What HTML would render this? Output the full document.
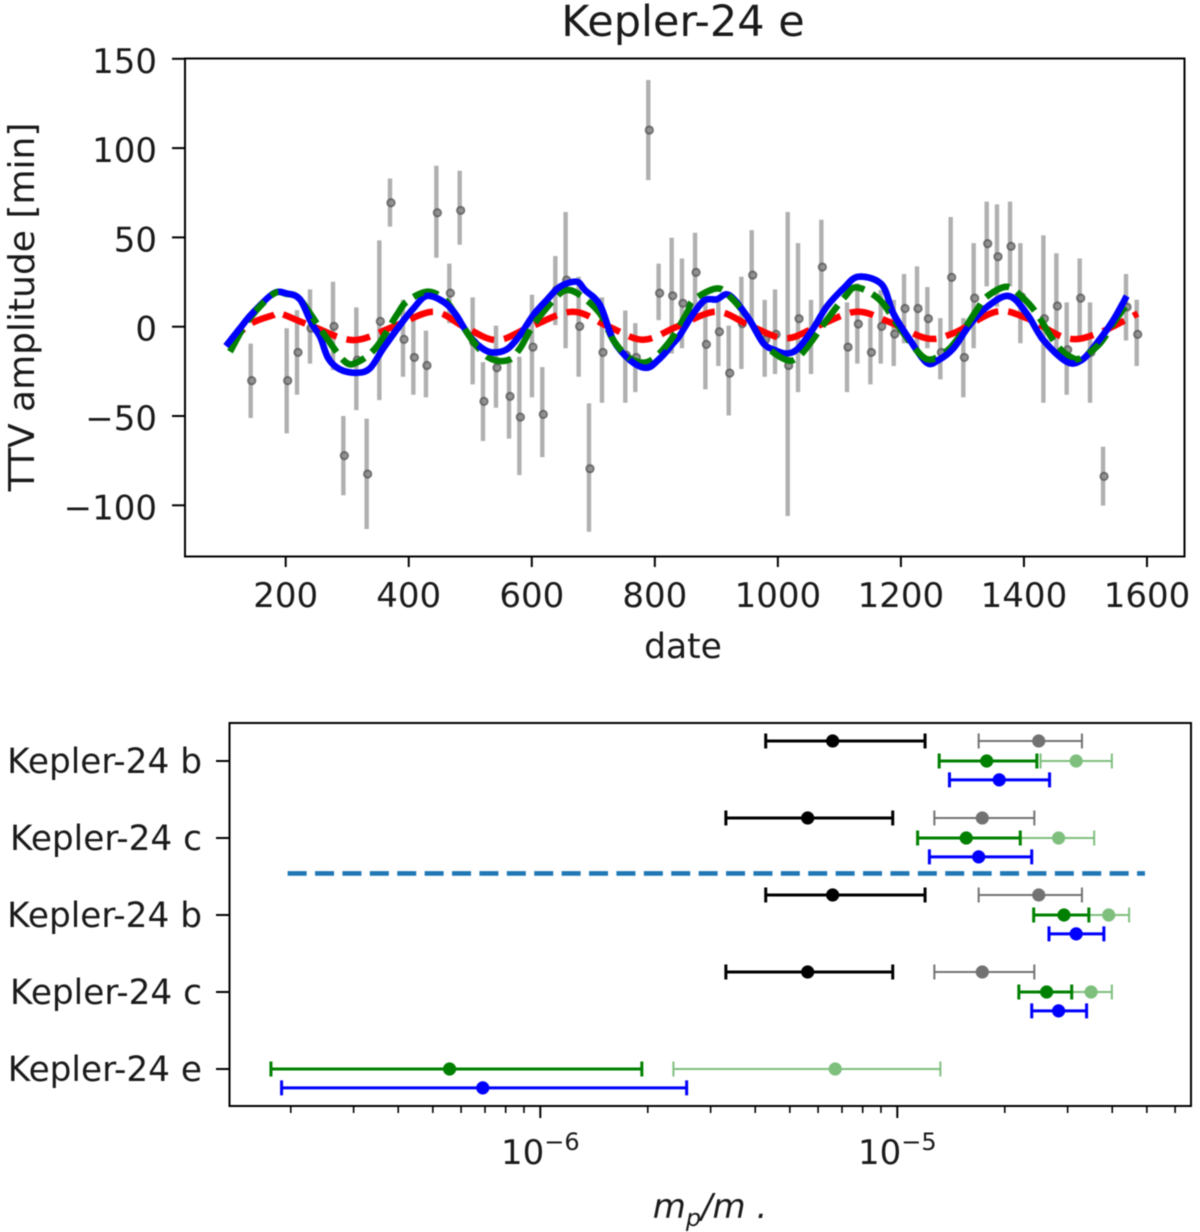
<!DOCTYPE html>
<html lang="en">
<head>
<meta charset="utf-8">
<title>Kepler-24 e TTV and mass comparison</title>
<style>
  html, body { margin: 0; padding: 0; background: #fff; }
  svg { display: block; filter: blur(0.65px); }
  text { font-family: "DejaVu Sans", "Liberation Sans", sans-serif; fill: #1a1a1a; }
</style>
</head>
<body>
<svg id="figure" xmlns="http://www.w3.org/2000/svg" width="1200" height="1232" viewBox="0 0 1200 1232">
  <rect x="0" y="0" width="1200" height="1232" fill="#fff"/>
  <text x="683" y="36" font-size="43" text-anchor="middle">Kepler-24 e</text>
  <text transform="translate(34,307) rotate(-90)" font-size="36" text-anchor="middle">TTV amplitude [min]</text>
  <text x="683" y="658" font-size="34.5" text-anchor="middle">date</text>
  <text x="710" y="1218" font-size="34" text-anchor="middle" font-style="italic">m<tspan font-size="24" dy="8">p</tspan><tspan dy="-8">/m .</tspan></text>
  <g id="top-chart"></g>
  <g id="bottom-chart"></g>
</svg>
<script>
// ---- Top chart data (date in days, TTV in minutes) ----
const ttvDates = [143.1,201.6,218.4,239.5,276.9,293.7,314.8,331.6,352.2,369.5,390.7,407.5,428.0,444.9,466.0,482.8,503.9,520.7,541.8,563.0,579.8,600.3,617.1,638.3,655.0,676.2,693.0,714.1,752.0,768.3,789.4,806.2,827.4,844.1,865.4,882.2,903.3,920.1,940.7,957.5,978.6,995.4,1016.0,1032.8,1053.9,1070.7,1112.4,1129.2,1150.4,1167.2,1188.3,1205.1,1226.2,1243.0,1264.1,1280.9,1301.5,1318.3,1339.5,1356.2,1377.4,1394.2,1431.6,1452.7,1469.5,1490.6,1507.4,1528.6,1565.9,1583.3];
const ttvValues = [-30.2,-30.2,-14.4,-0.9,0.2,-72.2,-18.7,-82.5,3.0,69.4,-7.1,-17.2,-21.7,63.8,18.8,65.1,-8.6,-41.8,-23.0,-39.0,-50.6,-11.4,-49.1,20.5,26.1,0.2,-79.5,-14.4,-15.9,-17.2,110.1,18.8,17.3,13.1,30.4,-9.9,-2.8,-26.0,1.7,28.9,-7.1,-4.3,-21.7,4.5,-5.6,33.4,-11.4,1.5,-14.4,0.2,-4.1,10.2,10.2,4.5,-14.4,27.6,-17.2,16.0,46.5,39.2,45.0,16.8,4.5,11.6,-12.9,16.0,-14.4,-83.8,11.0,-4.3];
const ttvUpper = [-9.5,-0.9,9.3,20.9,25.2,-50.0,10.8,-51.5,48.3,83.0,15.0,7.4,-2.2,90.1,35.3,87.3,16.4,-19.8,0.6,-16.8,-16.8,17.9,-22.6,39.6,64.2,28.0,-42.9,16.4,9.1,2.0,138.1,35.3,49.8,38.2,52.6,15.0,16.8,0.6,28.0,54.1,15.0,20.9,64.2,46.8,15.0,59.9,13.6,24.2,4.8,20.5,15.0,29.5,33.8,22.2,4.8,61.4,4.8,46.8,70.0,68.5,70.0,46.8,51.1,41.1,13.6,38.2,13.6,-67.2,29.5,15.1];
const ttvLower = [-51.1,-59.7,-38.1,-20.7,-24.3,-94.4,-46.7,-113.3,-41.1,56.0,-28.0,-38.1,-39.6,38.6,1.9,45.9,-32.3,-64.0,-45.4,-62.7,-83.1,-39.6,-73.0,0.9,-12.1,-28.0,-114.8,-42.6,-42.6,-36.6,82.1,3.7,-15.0,-12.1,9.3,-35.1,-22.0,-49.7,-23.7,1.9,-28.0,-26.5,-106.0,-36.6,-26.5,7.4,-36.6,-20.7,-32.3,-20.7,-22.0,-9.3,-13.1,-12.1,-29.5,-5.6,-39.6,-12.1,22.6,11.2,22.6,-9.3,-42.6,-13.1,-38.1,-5.6,-42.6,-100.2,-7.7,-22.0];

const blueDates = [103,125.7,144.7,179.9,201.6,223.2,242.2,255.8,269.3,288.3,315.4,337.0,358.7,385.8,407.5,429.1,456.2,475.2,499.6,523.9,542.9,561.9,580.8,602.5,624.2,645.8,672.9,686.5,710.9,732.5,759.6,786.7,808.4,830.1,841,862.7,881.6,900.6,921.2,952.1,976.5,995.4,1014.4,1033.3,1057.7,1079.4,1106.5,1130.9,1168.8,1187.8,1214.8,1241.9,1260.9,1285.3,1309.7,1336.7,1374.7,1404.5,1431.6,1469.5,1493.9,1518.3,1545.3,1567];
const blueValues = [-10.8,-0.9,7.1,18.6,18.6,15.3,1.8,-5.6,-17.7,-23.9,-25.8,-23.3,-12.1,0.9,10.2,17.2,14.0,7.4,-5.6,-13.1,-14.4,-12.1,-4.7,6.5,14.9,22.4,25.2,20.5,12.1,-7.5,-18.7,-23.0,-17.7,-9.3,-4.7,7.4,14.9,15.3,17.7,4.7,-9.3,-13.1,-15.0,-12.1,-0.9,11.2,21.4,28.0,23.7,7.4,-7.5,-20.2,-18.7,-12.1,0.0,10.2,17.2,7.4,-7.5,-19.6,-18.7,-9.3,3.7,17.2];

const greenDates = [109.5,139.3,179.9,201.6,223.2,261.2,296.4,318.1,347.9,380.4,396.6,429.1,456.2,475.2,505.0,532.1,561.9,580.8,602.5,637.7,656.7,678.4,710.9,732.5,759.6,789.4,821.9,851.8,862.7,900.6,922.3,952.1,979.2,1014.4,1033.3,1052.3,1079.4,1109.2,1128.2,1166.1,1198.6,1239.2,1269.0,1290.7,1323.2,1339.5,1372.0,1396.4,1420.7,1453.2,1480.3,1496.6,1523.7,1545.3,1564.3];
const greenValues = [-14.0,3.7,18.3,18.3,15.3,-3.7,-19.6,-19.6,-11.2,6.5,14.0,19.6,15.9,7.4,-8.4,-17.7,-18.7,-12.1,0.9,15.9,20.5,17.7,7.4,-7.5,-17.7,-19.6,-9.3,7.4,14.9,21.4,16.8,4.7,-10.3,-18.7,-16.8,-9.3,3.7,16.8,22.0,14.9,-1.0,-17.7,-14.9,-7.5,9.3,16.8,22.4,16.8,7.4,-10.3,-17.7,-16.8,-9.3,1.9,11.2];

const redDates = [105,140,180,191,245,310,375,440,490,543,598,667,725,781,836,900.6,958,1014,1069,1128,1180,1242,1285,1355,1405,1470,1520,1585];
const redValues = [-11,1,6.5,7.4,0,-7.5,0,8.4,0,-7.5,0,8.4,0,-7.3,0,8.4,0,-6.5,1,8.4,2.8,-6.5,-3.7,8.4,4.7,-6.5,-3.7,7.4];

const ttvXTicks = [200,400,600,800,1000,1200,1400,1600];
const ttvYTicks = [-100,-50,0,50,100,150];

// ---- Bottom chart data (planet mass ratio, in units of 1e-6) ----
const rowLabels = ['Kepler-24 b','Kepler-24 c','Kepler-24 b','Kepler-24 c','Kepler-24 e'];
const rowPositions = [4,3,2,1,0];

const blackCenter = [6.59,5.61,6.59,5.61,null];
const blackLow = [4.28,3.31,4.28,3.31,null];
const blackHigh = [11.96,9.71,11.96,9.71,null];

const grayCenter = [24.9,17.3,24.9,17.3,null];
const grayLow = [16.9,12.7,16.9,12.7,null];
const grayHigh = [32.9,24.2,32.9,24.2,null];

const lightGreenCenter = [31.7,28.3,39.1,34.9,6.70];
const lightGreenLow = [25.2,22.1,34.4,30.8,2.36];
const lightGreenHigh = [39.9,35.6,44.6,39.9,13.2];

const darkGreenCenter = [17.8,15.6,29.3,26.2,0.557];
const darkGreenLow = [13.1,11.4,24.1,21.9,0.176];
const darkGreenHigh = [24.6,22.1,34.4,30.8,1.925];

const blueMassCenter = [19.3,16.9,31.7,28.3,0.690];
const blueMassLow = [14.0,12.3,26.6,23.8,0.1885];
const blueMassHigh = [26.7,23.8,37.9,33.9,2.57];

const dividerRange = [0.196,49.4];
const dividerRow = 2.54;
const massMajorDecades = [-1,0];
const massMinorTicks = [0.2,0.3,0.4,0.5,0.6,0.7,0.8,0.9,2,3,4,5,6,7,8,9,20,30,40,50,60];

// ---- Axis functions ----
function xTop(d) { return 285.7 + (d - 200) * 0.6152; }
function yTop(v) { return 326.7 - v * 1.786; }
function xBot(m) { return 897.3 + (Math.log10(m) - 1) * 357; }
function yBot(p) { return 1069 - p * 77; }

const NS = 'http://www.w3.org/2000/svg';
function make(parent, tag, attrs, txt) {
  const el = document.createElementNS(NS, tag);
  for (const k in attrs) el.setAttribute(k, attrs[k]);
  if (txt !== undefined) el.textContent = txt;
  parent.appendChild(el);
  return el;
}

function smoothPath(xs, ys) {
  const px = xs.map(xTop);
  const py = ys.map(yTop);
  let d = 'M' + px[0].toFixed(1) + ' ' + py[0].toFixed(1);
  for (let i = 0; i < px.length - 1; i++) {
    const i0 = Math.max(i - 1, 0);
    const i3 = Math.min(i + 2, px.length - 1);
    const c1x = px[i] + (px[i + 1] - px[i0]) / 6;
    const c1y = py[i] + (py[i + 1] - py[i0]) / 6;
    const c2x = px[i + 1] - (px[i3] - px[i]) / 6;
    const c2y = py[i + 1] - (py[i3] - py[i]) / 6;
    d += ' C' + [c1x, c1y, c2x, c2y, px[i + 1], py[i + 1]].map(n => n.toFixed(1)).join(' ');
  }
  return d;
}

// ---- Top chart ----
const topChart = document.getElementById('top-chart');

ttvDates.forEach((d, i) => {
  const bar = make(topChart, 'line', { x1: xTop(d), x2: xTop(d), y1: yTop(ttvUpper[i]), y2: yTop(ttvLower[i]), stroke: '#b0b0b0', 'stroke-width': 4.4 });
  
  
});
ttvDates.forEach((d, i) => {
  const pt = make(topChart, 'circle', { cx: xTop(d) + 1, cy: yTop(ttvValues[i]), r: 3.6, fill: '#8a8a8a', stroke: '#5a5a5a', 'stroke-width': 2, opacity: 0.85 });
  
  
});

const redLine = make(topChart, 'path', { d: smoothPath(redDates, redValues), fill: 'none', stroke: '#ff0000', 'stroke-width': 6.5, 'stroke-dasharray': '24 10' });



const blueLine = make(topChart, 'path', { d: smoothPath(blueDates, blueValues), fill: 'none', stroke: '#0000ff', 'stroke-width': 6.5, 'stroke-linejoin': 'round' });



const greenLine = make(topChart, 'path', { d: smoothPath(greenDates, greenValues), fill: 'none', stroke: '#008000', 'stroke-width': 6.5, 'stroke-dasharray': '26 9' });



const blueOver = make(topChart, 'path', { d: smoothPath(blueDates, blueValues), fill: 'none', stroke: '#0000ff', 'stroke-width': 6.5, 'stroke-linejoin': 'round', 'stroke-dasharray': '46 30' });



const topFrame = make(topChart, 'rect', { x: 185, y: 58.5, width: 999.5, height: 498, fill: 'none', stroke: '#000', 'stroke-width': 2 });



ttvXTicks.forEach(t => {
  const tick = make(topChart, 'line', { x1: xTop(t), x2: xTop(t), y1: 557, y2: 567, stroke: '#000', 'stroke-width': 2 });
  
  
  const label = make(topChart, 'text', { x: xTop(t), y: 607, 'font-size': 34, 'text-anchor': 'middle' }, String(t));
  
  
});
ttvYTicks.forEach(t => {
  const tick = make(topChart, 'line', { x1: 172, x2: 185, y1: yTop(t), y2: yTop(t), stroke: '#000', 'stroke-width': 2 });
  
  
  const label = make(topChart, 'text', { x: 157, y: yTop(t) + 14, 'font-size': 34, 'text-anchor': 'end' }, String(t).replace('-', '\u2212'));
  
  
});

// ---- Bottom chart ----
const bottomChart = document.getElementById('bottom-chart');

function drawSeries(name, center, low, high, rowOffset, color, lw, capW, r, opacity) {
  center.forEach((c, i) => {
    if (c === null) return;
    const y = yBot(rowPositions[i] + rowOffset);
    const group = make(bottomChart, 'g', { opacity: opacity });
    
    
    make(group, 'line', { x1: xBot(low[i]), x2: xBot(high[i]), y1: y, y2: y, stroke: color, 'stroke-width': lw });
    make(group, 'line', { x1: xBot(low[i]), x2: xBot(low[i]), y1: y - 7.5, y2: y + 7.5, stroke: color, 'stroke-width': capW });
    make(group, 'line', { x1: xBot(high[i]), x2: xBot(high[i]), y1: y - 7.5, y2: y + 7.5, stroke: color, 'stroke-width': capW });
    make(group, 'circle', { cx: xBot(c), cy: y, r: r, fill: color });
  });
}

drawSeries('gray', grayCenter, grayLow, grayHigh, 0.26, '#000000', 2, 2, 6.6, 0.55);
drawSeries('light-green', lightGreenCenter, lightGreenLow, lightGreenHigh, 0, '#008000', 2, 2, 6.6, 0.5);
drawSeries('black', blackCenter, blackLow, blackHigh, 0.26, '#000000', 3, 3, 6.6, 1);
drawSeries('dark-green', darkGreenCenter, darkGreenLow, darkGreenHigh, 0, '#008000', 3, 3, 6.6, 1);
drawSeries('blue', blueMassCenter, blueMassLow, blueMassHigh, -0.245, '#0000ff', 3, 3, 6.6, 1);

const divider = make(bottomChart, 'line', { x1: xBot(dividerRange[0]), x2: xBot(dividerRange[1]), y1: yBot(dividerRow), y2: yBot(dividerRow), stroke: '#1f77b4', 'stroke-width': 4.6, 'stroke-dasharray': '19 8.4' });



const botFrame = make(bottomChart, 'rect', { x: 229.5, y: 723, width: 961.5, height: 383, fill: 'none', stroke: '#000', 'stroke-width': 2 });



massMinorTicks.forEach(t => {
  const tick = make(bottomChart, 'line', { x1: xBot(t), x2: xBot(t), y1: 1107, y2: 1113, stroke: '#000', 'stroke-width': 1.6 });
  
  
});
massMajorDecades.forEach(dec => {
  const x = xBot(Math.pow(10, dec + 1));
  const tick = make(bottomChart, 'line', { x1: x, x2: x, y1: 1107, y2: 1118, stroke: '#000', 'stroke-width': 2 });
  
  
  const label = make(bottomChart, 'text', { x: x, y: 1164, 'font-size': 34, 'text-anchor': 'middle' });
  
  
  make(label, 'tspan', {}, '10');
  make(label, 'tspan', { 'font-size': 24, dy: -14 }, '\u2212' + String(dec === -1 ? 6 : 5));
});
rowLabels.forEach((name, i) => {
  const y = yBot(rowPositions[i]);
  const tick = make(bottomChart, 'line', { x1: 216, x2: 229, y1: y, y2: y, stroke: '#000', 'stroke-width': 2 });
  
  
  const label = make(bottomChart, 'text', { x: 202, y: y + 12, 'font-size': 34.3, 'text-anchor': 'end' }, name);
  
  
});
</script>
</body>
</html>
